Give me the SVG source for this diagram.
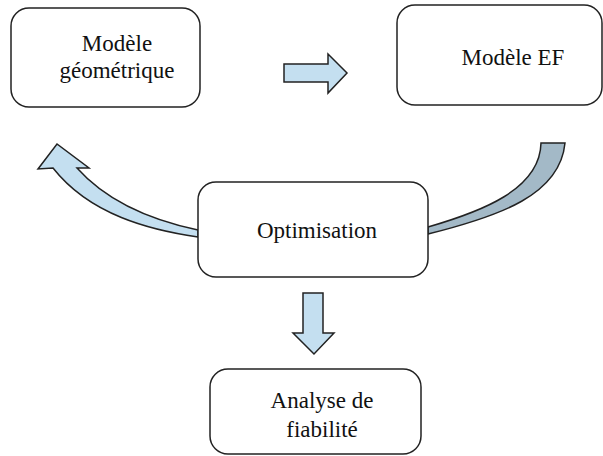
<svg xmlns="http://www.w3.org/2000/svg" width="603" height="456" viewBox="0 0 603 456">
<style>
.box{fill:#fff;stroke:#222;stroke-width:1.5}
.lbl{font-family:"Liberation Serif","Times New Roman",serif;font-size:23px;fill:#111;text-anchor:middle}
.arr{fill:#c4dff0;stroke:#222;stroke-width:1.5;stroke-linejoin:miter}
.arr2{fill:#a3b9c7;stroke:#222;stroke-width:1.5}
</style>
<rect width="603" height="456" fill="#fff"/>
<g id="connectors">
<path class="arr" d="M284,64 H328 V54 L347,73 L328,93 V82 H284 Z"/>
<path class="arr" d="M303,293 H323 V333 H334 L314,354 L293,333 H303 Z"/>
<path class="arr" d="M198,237 C150,230 90,215 53,168 L38,169 L57,144 L89,168 L77,168 C110,205 160,222 198,230 Z"/>
<path class="arr2" d="M428,234 C500,216 560,195 565,143 L541,143 C540,190 480,212 428,227 Z"/>
</g>
<g id="node-geometrique">
<rect class="box" x="11" y="8" width="189" height="99" rx="18"/>
<text class="lbl" x="117" y="51">Modèle</text>
<text class="lbl" x="117" y="78">géométrique</text>
</g>
<g id="node-ef">
<rect class="box" x="397" y="5" width="205" height="100" rx="18"/>
<text class="lbl" x="513" y="65">Modèle EF</text>
</g>
<g id="node-optimisation">
<rect class="box" x="198" y="182" width="230" height="95" rx="18"/>
<text class="lbl" x="317" y="238">Optimisation</text>
</g>
<g id="node-fiabilite">
<rect class="box" x="210" y="369" width="211" height="85" rx="18"/>
<text class="lbl" x="322" y="408">Analyse de</text>
<text class="lbl" x="322" y="437">fiabilité</text>
</g>
</svg>
